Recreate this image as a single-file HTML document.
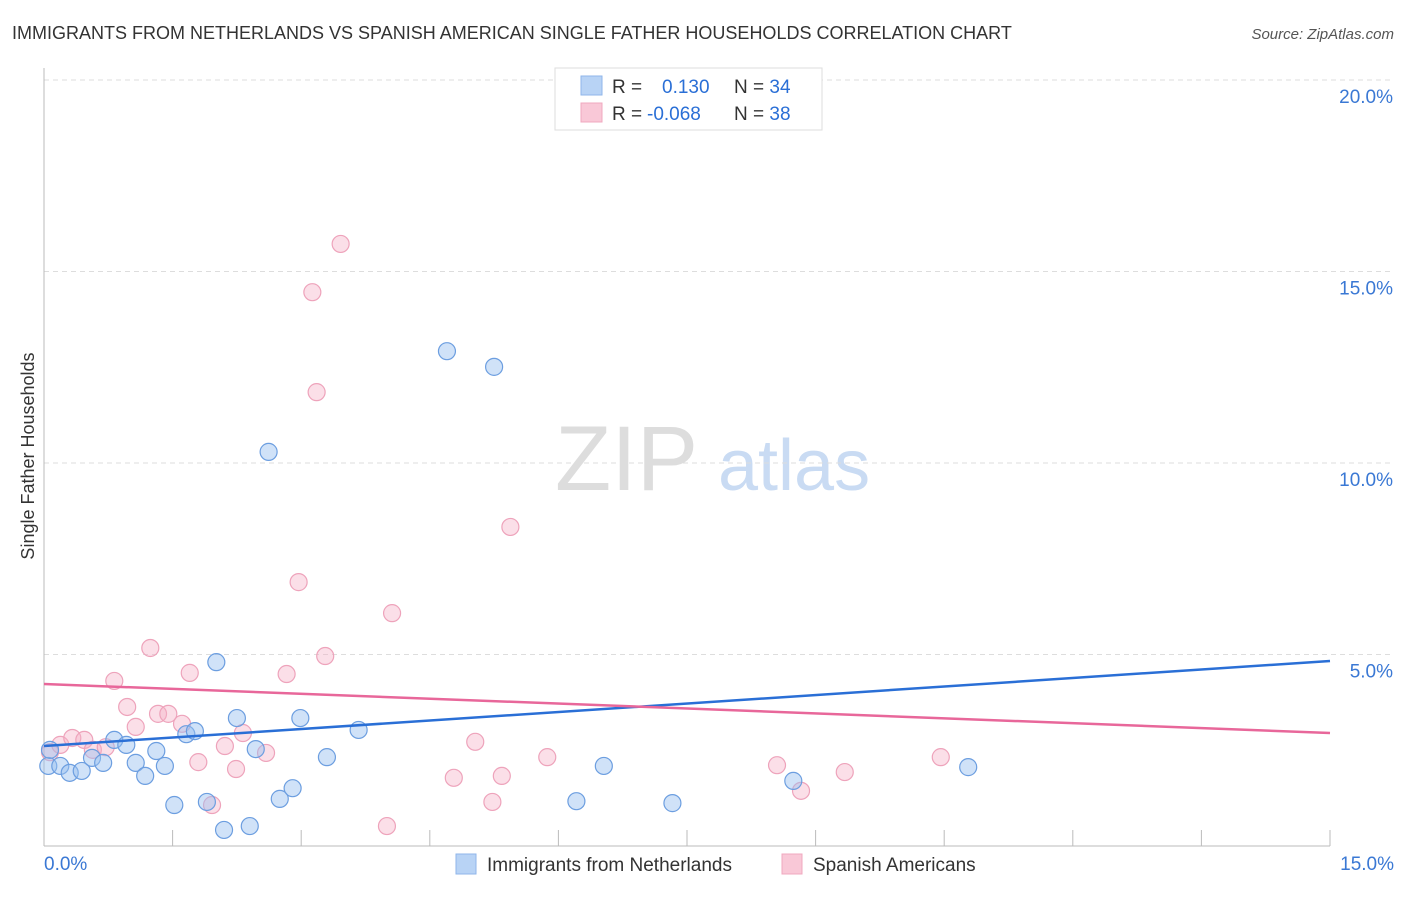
<!DOCTYPE html>
<html><head><meta charset="utf-8"><style>
body{margin:0;background:#fff;font-family:"Liberation Sans",sans-serif}
svg text{font-family:"Liberation Sans",sans-serif}
</style></head><body>
<svg width="1406" height="892" xmlns="http://www.w3.org/2000/svg">
<text x="12" y="39" font-size="18" fill="#333">IMMIGRANTS FROM NETHERLANDS VS SPANISH AMERICAN SINGLE FATHER HOUSEHOLDS CORRELATION CHART</text>
<text x="1394" y="39" font-size="15" fill="#555" font-style="italic" text-anchor="end">Source: ZipAtlas.com</text>
<g>
<text x="555" y="490" font-size="92" fill="#ddd" font-family="Liberation Serif">ZIP</text>
<text x="718" y="490" font-size="72" fill="#c9dbf3">atlas</text>
</g>
<g id="grid"></g><g id="axes"></g>
<text transform="translate(34,456) rotate(-90)" font-size="18" fill="#333" text-anchor="middle">Single Father Households</text>
<g id="pts"></g><g id="lines"></g>
<g>
<rect x="555" y="68" width="267" height="62" fill="#fff" stroke="#ddd"/>
<rect x="581" y="76" width="21" height="19" fill="#b8d3f5" stroke="#8fb6ea"/>
<rect x="581" y="103" width="21" height="19" fill="#f9c8d7" stroke="#f0a8bf"/>
<text x="612" y="93" font-size="19" fill="#333">R = <tspan fill="#2a6fd6" x="662">0.130</tspan><tspan fill="#333" x="734">N = </tspan><tspan fill="#2a6fd6">34</tspan></text>
<text x="612" y="120" font-size="19" fill="#333">R = <tspan fill="#2a6fd6" x="647">-0.068</tspan><tspan fill="#333" x="734">N = </tspan><tspan fill="#2a6fd6">38</tspan></text>
</g>
<g>
<rect x="456" y="854" width="20" height="20" fill="#b8d3f5" stroke="#8fb6ea"/>
<text x="487" y="871" font-size="19" fill="#333">Immigrants from Netherlands</text>
<rect x="782" y="854" width="20" height="20" fill="#f9c8d7" stroke="#f0a8bf"/>
<text x="813" y="871" font-size="19" fill="#333">Spanish Americans</text>
</g>
</svg>
<script>
const blueX=[0.05,0.07,0.19,0.30,0.44,0.56,0.69,0.82,0.96,1.07,1.18,1.31,1.41,1.52,1.66,1.76,1.90,2.01,2.10,2.25,2.40,2.47,2.62,2.75,2.90,2.99,3.30,3.67,4.70,5.25,6.21,6.53,7.33,8.74,10.78];
const blueY=[2.09,2.51,2.09,1.91,1.96,2.30,2.17,2.77,2.64,2.17,1.83,2.48,2.09,1.07,2.92,3.00,1.15,4.80,0.42,3.34,0.52,2.53,10.29,1.23,1.51,3.34,2.32,3.03,12.92,12.51,1.17,2.09,1.12,1.70,2.06];
const pinkX=[0.07,0.19,0.33,0.47,0.57,0.72,0.82,0.97,1.07,1.24,1.33,1.45,1.61,1.70,1.80,1.96,2.11,2.24,2.32,2.59,2.83,2.97,3.13,3.18,3.28,3.46,4.00,4.06,4.78,5.03,5.23,5.34,5.44,5.87,8.55,8.83,9.34,10.46];
const pinkY=[2.45,2.64,2.82,2.77,2.51,2.58,4.31,3.63,3.11,5.17,3.45,3.45,3.19,4.52,2.19,1.07,2.61,2.01,2.95,2.43,4.49,6.89,14.46,11.85,4.96,15.72,0.52,6.08,1.78,2.72,1.15,1.83,8.33,2.32,2.11,1.44,1.93,2.32];
const blueTrend=[2.61,4.83];
const pinkTrend=[4.23,2.95];
const yTicks=[5,10,15,20];
const xTickLabels=["0.0%","15.0%"];
const NS="http://www.w3.org/2000/svg";
const X0=44,X1=1330,Y0=846,Y20=80;
const sx=v=>X0+v/15*(X1-X0);
const sy=v=>Y0-v/20*(Y0-Y20);
function mk(t,a,p){const e=document.createElementNS(NS,t);for(const k in a)e.setAttribute(k,a[k]);p.appendChild(e);return e;}
const grid=document.getElementById('grid'),axes=document.getElementById('axes');
yTicks.forEach(v=>{
 const l=mk('line',{x1:X0,x2:1394,y1:sy(v),y2:sy(v),stroke:'#ddd','stroke-dasharray':'5,4'},grid);
 
 
 const t=mk('text',{x:1393,y:sy(v)+23,'font-size':19,fill:'#3a78d4','text-anchor':'end'},axes);
 t.textContent=v.toFixed(1)+'%';
 
 
});
const ya=mk('line',{x1:X0,x2:X0,y1:68,y2:Y0,stroke:'#bbb'},axes);


const xa=mk('line',{x1:X0,x2:X1,y1:Y0,y2:Y0,stroke:'#bbb'},axes);


for(let i=0;i<=10;i++){
 const tk=mk('line',{x1:sx(i*1.5),x2:sx(i*1.5),y1:830,y2:Y0,stroke:'#bbb'},axes);
 
 
}
[[0,'start',44],[15,'end',1394]].forEach((d,i)=>{
 const t=mk('text',{x:d[2],y:870,'font-size':19,fill:'#3a78d4','text-anchor':d[1]},axes);
 t.textContent=xTickLabels[i];
 
 
});
const pts=document.getElementById('pts');
pinkX.forEach((x,i)=>{
 const c=mk('circle',{cx:sx(x),cy:sy(pinkY[i]),r:8.5,fill:'rgba(246,175,198,0.4)',stroke:'#eea3bb','stroke-width':1.2},pts);
 
 
});
blueX.forEach((x,i)=>{
 const c=mk('circle',{cx:sx(x),cy:sy(blueY[i]),r:8.5,fill:'rgba(150,190,240,0.45)',stroke:'#6c9ee0','stroke-width':1.2},pts);
 
 
});
const lines=document.getElementById('lines');
const bl=mk('line',{x1:sx(0),x2:sx(15),y1:sy(blueTrend[0]),y2:sy(blueTrend[1]),stroke:'#2a6fd6','stroke-width':2.5},lines);


const pl=mk('line',{x1:sx(0),x2:sx(15),y1:sy(pinkTrend[0]),y2:sy(pinkTrend[1]),stroke:'#e8679a','stroke-width':2.5},lines);


</script>
</body></html>
